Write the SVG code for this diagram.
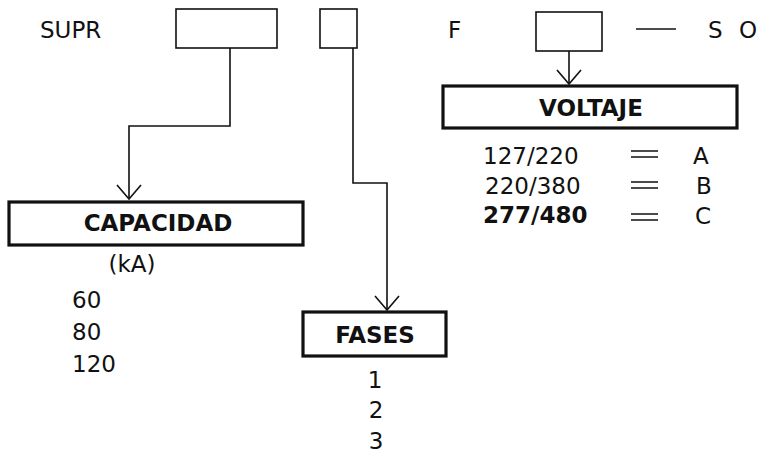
<svg xmlns="http://www.w3.org/2000/svg" width="764" height="453" viewBox="0 0 764 453">
<defs>
<style>
text{font-family:"DejaVu Sans","Liberation Sans",sans-serif;fill:#111;font-size:23px}
.b{font-weight:bold}
.thin{fill:#fff;stroke:#111;stroke-width:1.6}
.thick{fill:#fff;stroke:#111;stroke-width:3.2}
.c{fill:none;stroke:#111;stroke-width:1.6}
</style>
<marker id="ah" viewBox="0 0 17 26" refX="15" refY="13" markerWidth="17" markerHeight="26" markerUnits="userSpaceOnUse" orient="auto">
<path d="M1,1 L15,13 L1,25" fill="none" stroke="#111" stroke-width="1.6"/>
</marker>
</defs>
<rect width="764" height="453" fill="#fff"/>
<g id="code">
<text x="40" y="38" font-size="25">SUPR</text>
<rect class="thin" x="176" y="9" width="101" height="39"/>
<rect class="thin" x="320" y="9" width="37" height="39"/>
<text x="448" y="38">F</text>
<rect class="thin" x="536" y="12" width="66" height="39"/>
<line x1="636" y1="29" x2="676" y2="29" stroke="#111" stroke-width="1.6"/>
<text x="708" y="38">S</text>
<text x="739" y="38">O</text>
</g>
<g id="connectors">
<polyline class="c" points="230,48 230,126 129,126 129,199" marker-end="url(#ah)"/>
<polyline class="c" points="353,48 353,183 387,183 387,310" marker-end="url(#ah)"/>
<polyline class="c" points="569,51 569,84" marker-end="url(#ah)"/>
</g>
<g id="capacidad">
<rect class="thick" x="9" y="202" width="294" height="43"/>
<text class="b" x="158" y="231" text-anchor="middle">CAPACIDAD</text>
<text x="132" y="272" text-anchor="middle">(kA)</text>
<text x="72" y="308">60</text>
<text x="72" y="340">80</text>
<text x="72" y="372">120</text>
</g>
<g id="fases">
<rect class="thick" x="303" y="312" width="143" height="44"/>
<text class="b" x="375" y="343" text-anchor="middle">FASES</text>
<text x="375" y="388" text-anchor="middle">1</text>
<text x="376" y="418" text-anchor="middle">2</text>
<text x="376" y="449" text-anchor="middle">3</text>
</g>
<g id="voltaje">
<rect class="thick" x="443" y="86" width="294" height="42"/>
<text class="b" x="591" y="116" text-anchor="middle">VOLTAJE</text>
<text x="483" y="164">127/220</text>
<text x="485" y="194">220/380</text>
<text class="b" x="483" y="223">277/480</text>
<path class="c" d="M631,151 H658 M631,157 H658 M631,182 H658 M631,188 H658 M631,214 H658 M631,220 H658"/>
<text x="693" y="164">A</text>
<text x="696" y="194">B</text>
<text x="695" y="224">C</text>
</g>
</svg>
